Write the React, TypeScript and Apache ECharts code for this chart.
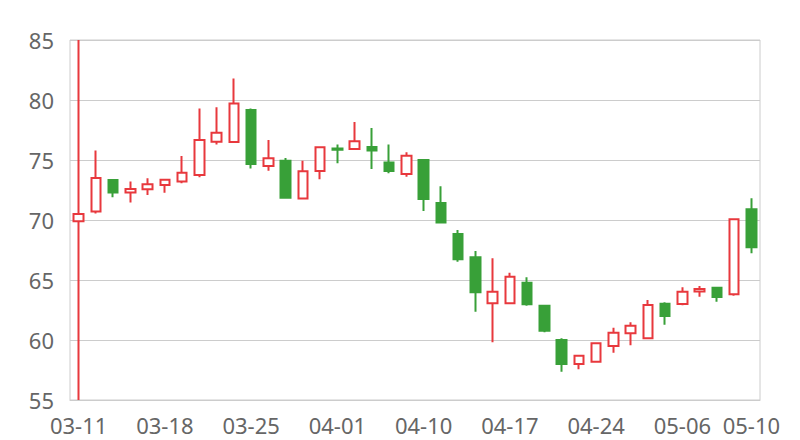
import React, { useEffect, useRef } from "react";
import * as echarts from "echarts";

const dates = [
  "03-11", "03-12", "03-13", "03-14", "03-15",
  "03-18", "03-19", "03-20", "03-21", "03-22",
  "03-25", "03-26", "03-27", "03-28", "03-29",
  "04-01", "04-02", "04-03", "04-08", "04-09",
  "04-10", "04-11", "04-12", "04-15", "04-16",
  "04-17", "04-18", "04-19", "04-22", "04-23",
  "04-24", "04-25", "04-26", "04-29", "04-30",
  "05-06", "05-07", "05-08", "05-09", "05-10",
];

const opens = [
  69.9, 70.7, 73.33, 72.3, 72.56, 72.92, 73.2, 73.75, 76.53, 76.5,
  79.17, 74.5, 74.94, 71.8, 74.08, 75.95, 75.92, 76.08, 74.8, 73.83,
  75.0, 71.42, 68.83, 66.89, 63.06, 63.06, 64.78, 62.86, 60.0, 58.0,
  58.19, 59.5, 60.56, 60.14, 63.03, 63.0, 64.05, 64.36, 63.81, 70.89,
];
const closes = [
  70.5, 73.5, 72.3, 72.58, 72.97, 73.36, 73.94, 76.67, 77.28, 79.7,
  74.67, 75.14, 71.86, 74.06, 76.06, 75.85, 76.56, 75.8, 74.08, 75.36,
  71.75, 69.8, 66.72, 63.97, 64.03, 65.28, 62.97, 60.78, 58.0, 58.69,
  59.72, 60.61, 61.19, 62.92, 62.0, 64.03, 64.25, 63.58, 70.06, 67.72,
];
const lows = [
  55, 70.55, 71.9, 71.45, 72.08, 72.28, 73.06, 73.56, 76.3, 76.45,
  74.3, 74.1, 71.86, 71.8, 73.39, 74.72, 75.9, 74.25, 73.89, 73.61,
  70.75, 69.8, 66.53, 62.36, 59.81, 63.0, 62.86, 60.64, 57.36, 57.56,
  58.19, 58.94, 59.56, 60.1, 61.28, 62.89, 63.6, 63.19, 63.69, 67.22,
];
const highs = [
  85, 75.8, 73.4, 73.2, 73.47, 73.4, 75.33, 79.3, 79.39, 81.8,
  79.3, 76.67, 75.17, 74.94, 76.1, 76.3, 78.17, 77.67, 76.3, 75.64,
  75.0, 72.82, 69.17, 67.42, 66.81, 65.61, 65.22, 62.9, 60.14, 58.7,
  59.72, 61.03, 61.47, 63.33, 63.14, 64.39, 64.5, 64.4, 70.1, 71.81,
];

const yMin = 55;
const yMax = 85;
const yStep = 5;

const RED = "#e8383d";
const GREEN = "#38a038";
const FONT = "Noto Sans";

export default function App() {
  const ref = useRef<HTMLDivElement>(null);

  useEffect(() => {
    if (!ref.current) return;
    const chart = echarts.init(ref.current, null, { renderer: "svg" });
    const data = dates.map((_, i) => [opens[i], closes[i], lows[i], highs[i]]);
    const lastIdx = dates.length - 1;
    chart.setOption({
      animation: false,
      backgroundColor: "#ffffff",
      grid: {
        show: true,
        left: 70,
        right: 40,
        top: 40,
        bottom: 40,
        borderColor: "#cccccc",
        borderWidth: 1,
        containLabel: false,
      },
      xAxis: {
        type: "category",
        data: dates,
        boundaryGap: true,
        axisLine: { show: true, lineStyle: { color: "#cccccc" } },
        axisTick: { show: false },
        splitLine: { show: false },
        axisLabel: {
          color: "#666666",
          fontFamily: FONT,
          fontSize: 22,
          margin: 14,
          interval: (idx: number) => idx % 5 === 0 || idx === lastIdx,
        },
      },
      yAxis: {
        type: "value",
        min: yMin,
        max: yMax,
        interval: yStep,
        scale: true,
        axisLine: { show: false },
        axisTick: { show: false },
        splitLine: { show: true, lineStyle: { color: "#cccccc" } },
        axisLabel: {
          color: "#666666",
          fontFamily: FONT,
          fontSize: 22,
          margin: 16,
        },
      },
      series: [
        {
          type: "candlestick",
          data,
          barWidth: 10,
          clip: true,
          itemStyle: {
            color: "#ffffff",
            color0: GREEN,
            borderColor: RED,
            borderColor0: GREEN,
            borderWidth: 2,
          },
        },
      ],
    });
    return () => chart.dispose();
  }, []);

  return (
    <div
      ref={ref}
      style={{ position: "fixed", left: 0, top: 0, width: 800, height: 440 }}
    />
  );
}
